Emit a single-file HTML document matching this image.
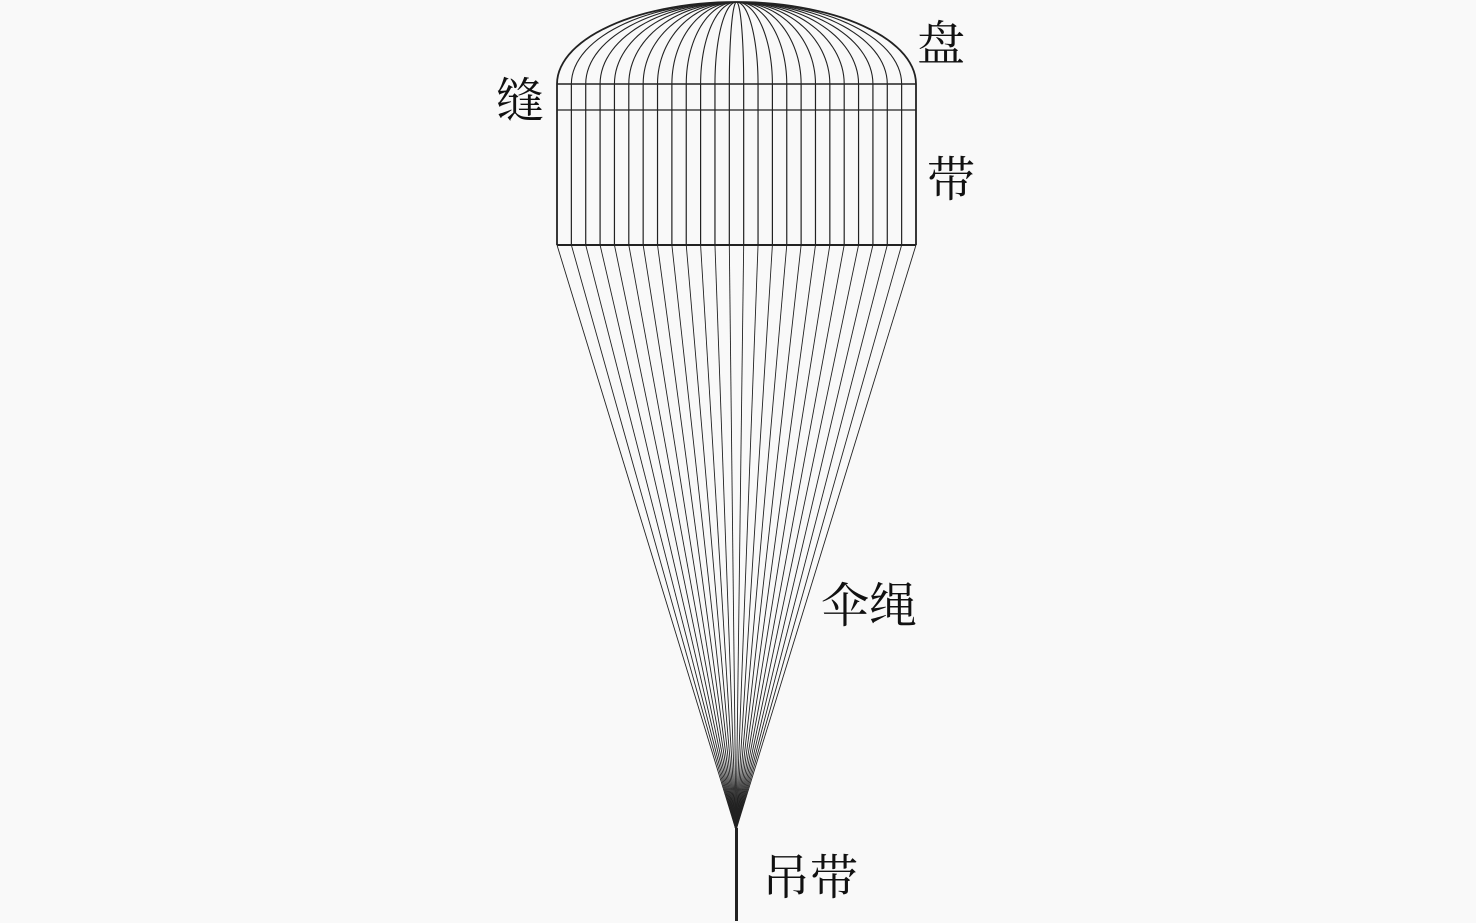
<!DOCTYPE html>
<html><head><meta charset="utf-8"><style>
html,body{margin:0;padding:0;background:#f9f9f9;}
svg{display:block}
text{font-family:"Liberation Serif","Noto Serif CJK SC",serif;font-size:48px;fill:#111}
</style></head><body>
<svg id="s" width="1476" height="923" viewBox="0 0 1476 923" xmlns="http://www.w3.org/2000/svg">
<g id="g" stroke="#222" fill="none" stroke-width="1.2"></g>
<text x="496" y="117">缝</text>
<text x="917" y="60">盘</text>
<text x="927" y="196">带</text>
<text x="821" y="622">伞绳</text>
<text x="762" y="894">吊带</text>
</svg>
<script>
(function(){
var g=document.getElementById('g'),h='';
var L=557,R=916,C=736.5,N=25,yt=2,yb=84;
for(var i=0;i<=N;i++){
 var x=L+(R-L)*i/N;
 var d='M'+C+' '+yt;
 for(var k=1;k<=30;k++){var t=k/30*Math.PI/2;d+=' L'+(C+(x-C)*Math.sin(t)).toFixed(2)+' '+(yb-(yb-yt)*Math.cos(t)).toFixed(2);}
 h+='<path d="'+d+'" stroke-width="'+((i==0||i==N)?1.8:1.1)+'"/>';
 h+='<line x1="'+x+'" y1="84" x2="'+x+'" y2="245" stroke-width="'+((i==0||i==N)?1.8:1.2)+'"/>';
 h+='<line x1="'+x+'" y1="245" x2="736" y2="830" stroke-width="0.9"/>';
}
h+='<line x1="557" y1="84" x2="916" y2="84" stroke-width="1.5"/>';
h+='<line x1="557" y1="110" x2="916" y2="110" stroke-width="1.3"/>';
h+='<line x1="557" y1="245" x2="916" y2="245" stroke-width="2"/>';
h+='<line x1="736.5" y1="828" x2="736.5" y2="921" stroke-width="3"/>';
g.innerHTML=h;
})();
</script>
</body></html>
